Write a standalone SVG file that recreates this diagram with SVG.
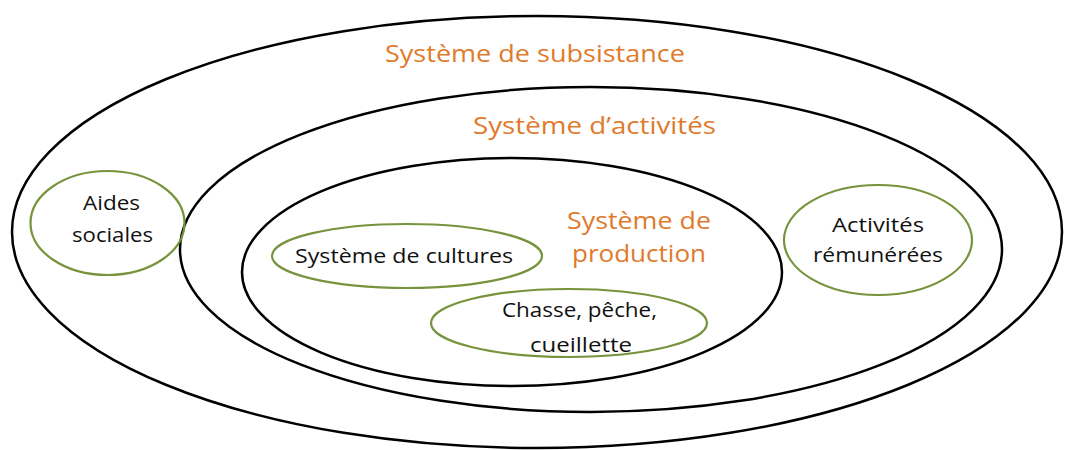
<svg xmlns="http://www.w3.org/2000/svg" width="1065" height="450" viewBox="0 0 1065 450">
<style>
.sys{fill:none;stroke:#000;stroke-width:2.5}
.sub{fill:none;stroke:#77933C;stroke-width:2.2}
.ttl{font-family:"Open Sans","Liberation Sans",sans-serif;font-size:24px;fill:#E07A2C}
.lbl{font-family:"Open Sans","Liberation Sans",sans-serif;font-size:20.5px;fill:#111}
</style>
<rect width="1065" height="450" fill="#fff"/>
<g id="subsistance">
<ellipse class="sys" cx="537" cy="232" rx="525" ry="216"/>
<text class="ttl" x="385" y="62" textLength="300" lengthAdjust="spacingAndGlyphs">Système de subsistance</text>
</g>
<g id="activites">
<ellipse class="sys" cx="591" cy="249.5" rx="411" ry="162.5"/>
<text class="ttl" x="473" y="134" textLength="243" lengthAdjust="spacingAndGlyphs">Système d’activités</text>
</g>
<g id="production">
<ellipse class="sys" cx="512" cy="272" rx="270" ry="114"/>
<text class="ttl" x="567" y="229" textLength="144" lengthAdjust="spacingAndGlyphs">Système de</text>
<text class="ttl" x="572" y="262" textLength="134" lengthAdjust="spacingAndGlyphs">production</text>
</g>
<g id="aides">
<ellipse class="sub" cx="107.5" cy="223" rx="77" ry="52"/>
<text class="lbl" x="83" y="210" textLength="57" lengthAdjust="spacingAndGlyphs">Aides</text>
<text class="lbl" x="72" y="242" textLength="81" lengthAdjust="spacingAndGlyphs">sociales</text>
</g>
<g id="cultures">
<ellipse class="sub" cx="407" cy="256" rx="135" ry="32"/>
<text class="lbl" x="295" y="263" textLength="218" lengthAdjust="spacingAndGlyphs">Système de cultures</text>
</g>
<g id="chasse">
<ellipse class="sub" cx="569" cy="323" rx="138" ry="34"/>
<text class="lbl" x="502" y="317" textLength="155" lengthAdjust="spacingAndGlyphs">Chasse, pêche,</text>
<text class="lbl" x="530" y="352" textLength="102" lengthAdjust="spacingAndGlyphs">cueillette</text>
</g>
<g id="remunerees">
<ellipse class="sub" cx="878" cy="240" rx="94" ry="55"/>
<text class="lbl" x="832" y="232" textLength="92" lengthAdjust="spacingAndGlyphs">Activités</text>
<text class="lbl" x="813" y="262" textLength="130" lengthAdjust="spacingAndGlyphs">rémunérées</text>
</g>
<g id="connectors"/>
</svg>
